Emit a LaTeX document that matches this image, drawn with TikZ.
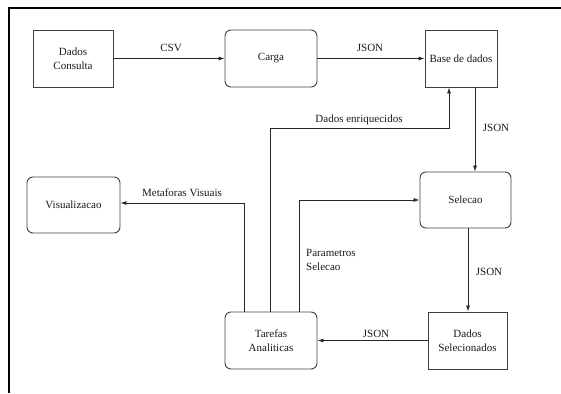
\documentclass[tikz,border=0pt]{standalone}
\usepackage{fontspec}
\setmainfont{Liberation Serif}
\usepackage{tikz}
\usetikzlibrary{arrows.meta}

\tikzset{
	caixa/.style={draw=black!75, line width=0.9pt, minimum width=#1, minimum height=57pt, align=center, text=black!90, inner sep=1pt},
	caixa/.default=80pt,
	redonda/.style={caixa=#1, rounded corners=6pt},
	redonda/.default=92pt,
	seta/.style={draw=black!85, line width=0.8pt, -{Latex[length=6pt,width=4pt]}},
	rotulo/.style={text=black!90, inner sep=0pt, align=left}
}

\begin{document}
\begin{tikzpicture}[x=1pt, y=-1pt, font=\fontsize{11}{14}\selectfont]
							\useasboundingbox (0,0) rectangle (561,393);
							\draw[line width=1.4pt] (561,8) -- (9,8) -- (9,393);
							
							\node[caixa] (consulta) at (73,58.5) {Dados\\Consulta};
							\node[redonda] (carga) at (271,58.5) {Carga};
							\node[caixa=72pt] (base) at (461,58.5) {Base de dados};
							\node[redonda=91pt, minimum height=56pt] (selecao) at (465.5,200) {Selecao};
							\node[redonda=93pt, minimum height=56pt] (visual) at (73.5,205) {Visualizacao};
							\node[redonda] (tarefas) at (271,340.5) {Tarefas\\Analiticas};
							\node[caixa=79pt] (selecionados) at (467.5,340.5) {Dados\\Selecionados};
							
							\coordinate (vis) at (244,203);
							\coordinate (enr) at (270,128);
							\coordinate (par) at (299,200);
							
							\draw[seta] (consulta) -- (carga);
							\draw[seta] (carga) -- (base);
							\draw[seta] (base.south -| 475,0) -- (selecao.north -| 475,0);
							\draw[seta] (selecao.south -| 468,0) -- (selecionados.north -| 468,0);
							\draw[seta] (selecionados) -- (tarefas);
							\draw[seta] (tarefas.north -| vis) -- (vis) -- (visual.east |- vis);
							\draw[seta] (tarefas.north -| enr) -- (enr) -| (base.south -| 449,0);
							\draw[seta] (tarefas.north -| par) -- (par) -- (selecao.west |- par);
							
							\node[rotulo] (l1) at (171,48) {CSV};
							\node[rotulo] (l2) at (370,48) {JSON};
							\node[rotulo] (l3) at (496,128) {JSON};
							\node[rotulo] (l4) at (359,120) {Dados enriquecidos};
							\node[rotulo] (l5) at (182,193) {Metaforas Visuais};
							\node[rotulo, anchor=west] (l6) at (306,260) {Parametros\\Selecao};
							\node[rotulo] (l7) at (489,272) {JSON};
							\node[rotulo] (l8) at (376,334) {JSON};
						\end{tikzpicture}
\end{document}
